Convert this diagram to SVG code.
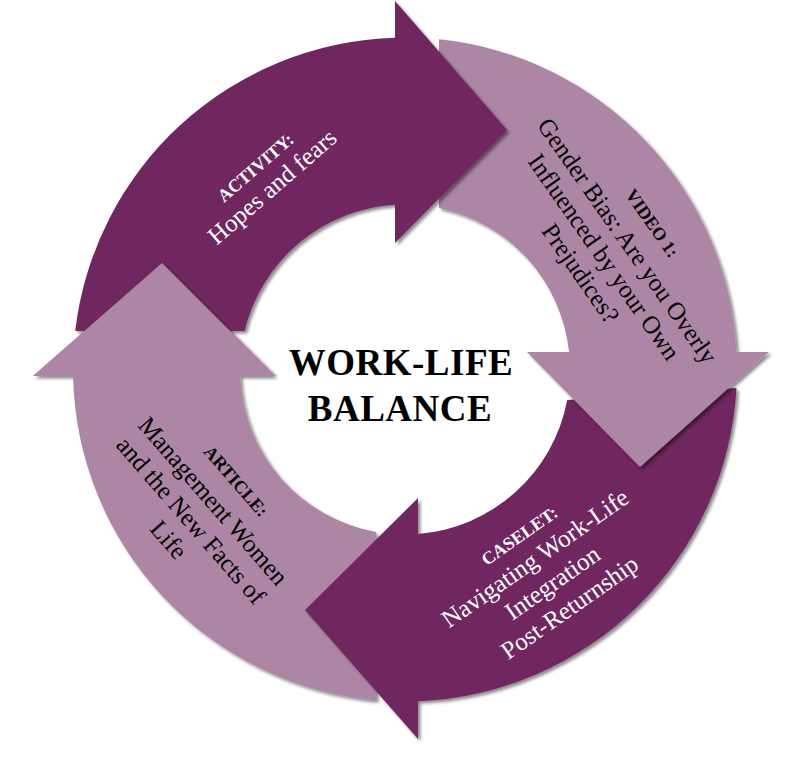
<svg xmlns="http://www.w3.org/2000/svg" xmlns:xlink="http://www.w3.org/1999/xlink" width="799" height="758" viewBox="0 0 799 758">
<style>
.dark{fill:#70285F;}
.light{fill:#AD86A5;}
.txt{font-family:"Liberation Serif","Times New Roman",serif;text-anchor:middle;dominant-baseline:central;}
.hdr{font-size:18px;font-weight:bold;}
.body{font-size:25px;}
.w{fill:#FFFFFF;}
.k{fill:#000000;}
.title{font-family:"Liberation Serif","Times New Roman",serif;font-size:37px;font-weight:bold;text-anchor:middle;fill:#000;letter-spacing:0.5px;}
</style>
<defs>
<filter id="sh" x="-10%" y="-10%" width="125%" height="125%">
<feDropShadow dx="2.5" dy="2.5" stdDeviation="1.8" flood-color="#000" flood-opacity="0.45"/>
</filter>
<clipPath id="artHeadClip"><rect x="0" y="240" width="300" height="136"/></clipPath>
<path id="articleShape" d="M376,531.9 L376,700.2 A332,332 0 0 1 73.1,376 L33,376 L162,263 L275,376 L240.1,376 A165,165 0 0 0 376,531.9 Z"/>
</defs>
<rect width="799" height="758" fill="#FFFFFF"/>

<g id="article">
<use xlink:href="#articleShape" class="light" filter="url(#sh)"/>
<g transform="translate(213.4,500.9) rotate(49)">
<text class="txt k hdr" x="0" y="-30">ARTICLE:</text>
<text class="txt k body" x="0" y="0">Management Women</text>
<text class="txt k body" x="0" y="29.5">and the New Facts of</text>
<text class="txt k body" x="0" y="59">Life</text>
</g>
</g>

<g id="caselet">
<path class="dark" filter="url(#sh)" d="M567.2,400 L736.5,388 A332,332 0 0 1 418,701.2 L418,739 L305,610 L418,498 L418,534 A165,165 0 0 0 567.2,400 Z"/>
<g transform="translate(535,558) rotate(-35)">
<text class="txt w hdr" x="0" y="-27">CASELET:</text>
<text class="txt w body" x="0" y="0">Navigating Work-Life</text>
<text class="txt w body" x="0" y="30">Integration</text>
<text class="txt w body" x="0" y="60">Post-Returnship</text>
</g>
</g>

<g id="video">
<path class="light" filter="url(#sh)" d="M439,208 L439,39.25 A332,332 0 0 1 736.5,352 L769,352 L640,467 L527,352 L569.1,352 A165,165 0 0 0 439,208 Z"/>
<g transform="translate(627.5,240.5) rotate(55)">
<text class="txt k hdr" x="0" y="-30">VIDEO 1:</text>
<text class="txt k body" x="0" y="0">Gender Bias: Are you Overly</text>
<text class="txt k body" x="0" y="28.5">Influenced by your Own</text>
<text class="txt k body" x="0" y="57">Prejudices?</text>
</g>
</g>

<g id="activity">
<path class="dark" filter="url(#sh)" d="M244.6,331 L75.2,331 A332,332 0 0 1 395,37.7 L395,1 L507,130 L395,243 L395,204.8 A165,165 0 0 0 244.6,331 Z"/>
<g transform="translate(272,186.5) rotate(-41)">
<text class="txt w hdr" x="0" y="-25">ACTIVITY:</text>
<text class="txt w body" x="0" y="0">Hopes and fears</text>
</g>
</g>

<g id="article-head-overlap" clip-path="url(#artHeadClip)">
<use xlink:href="#articleShape" class="light" filter="url(#sh)"/>
</g>

<g id="title">
<text class="title" x="401" y="375">WORK-LIFE</text>
<text class="title" x="400" y="421">BALANCE</text>
</g>
</svg>
